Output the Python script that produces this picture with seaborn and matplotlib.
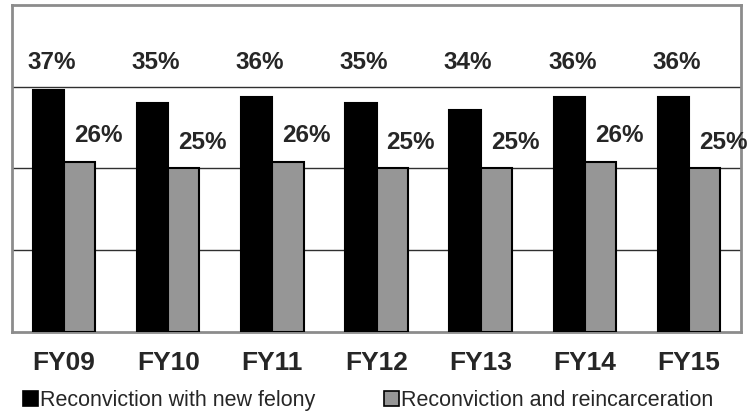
import matplotlib
matplotlib.use("Agg")
import matplotlib.pyplot as plt
import numpy as np
import pandas as pd
import seaborn as sns
from matplotlib.patches import Patch

years = ["FY09", "FY10", "FY11", "FY12", "FY13", "FY14", "FY15"]
felony = [0.37, 0.35, 0.36, 0.35, 0.34, 0.36, 0.36]
reincarc = [0.26, 0.25, 0.26, 0.25, 0.25, 0.26, 0.25]
series_names = ["Reconviction with new felony", "Reconviction and reincarceration"]
series_colors = ["#000000", "#969696"]

df = pd.DataFrame({
	"year": years * 2,
	"rate": felony + reincarc,
	"series": [series_names[0]] * len(years) + [series_names[1]] * len(years),
})

sns.set_style("white")
plt.rcParams['font.family'] = ['Liberation Sans', 'DejaVu Sans']

fig = plt.figure(figsize=(7.53, 4.13), dpi=100)
ax = fig.add_axes([12 / 753, 81 / 413, 729 / 753, 327 / 413])

sns.barplot(data=df, x="year", y="rate", hue="series", palette=series_colors,
            width=0.6, edgecolor="black", linewidth=1.5, ax=ax, legend=False, zorder=3)

ax.set_ylim(0, 0.5)
ax.set_xlim(-0.5, len(years) - 0.5)
ax.set_yticks([0.125, 0.25, 0.375])
ax.set_yticklabels([])
ax.tick_params(axis="y", length=0)
ax.yaxis.grid(True, color="#303030", linewidth=1.0, zorder=0)
ax.set_xlabel("")
ax.set_ylabel("")

# tick marks at category boundaries
ax.set_xticks(np.arange(len(years)))
ax.set_xticklabels(years, fontsize=19, fontweight="bold")
ax.tick_params(axis="x", which="major", length=0, pad=14)
ax.set_xticks(np.arange(len(years) + 1) - 0.5, minor=True)
ax.tick_params(axis="x", which="minor", length=6, width=1.2, color="#808080", direction="out")

for side in ["left", "top", "right", "bottom"]:
	ax.spines[side].set_visible(True)
	ax.spines[side].set_color("#8c8c8c")
	ax.spines[side].set_linewidth(2)

# value labels (placed in a row above the bars, like the original)
for i, v in enumerate(felony):
	ax.text(i - 0.12, 0.412, f"{round(v * 100)}%", ha="center", va="center",
	        fontsize=17.5, fontweight="bold", zorder=5)
for i, v in enumerate(reincarc):
	ax.text(i + 0.33, v + 0.04, f"{round(v * 100)}%", ha="center", va="center",
	        fontsize=17.5, fontweight="bold", zorder=5, clip_on=False)

handles = [Patch(facecolor=c, edgecolor="black", linewidth=1.2) for c in series_colors]
fig.legend(handles, series_names, loc="center", bbox_to_anchor=(0.489, 0.03),
           ncol=2, frameon=False, fontsize=15.5, handlelength=0.7, handleheight=0.7,
           handletextpad=0.1, columnspacing=3.2, borderpad=0)

fig.savefig("out.png", dpi=100)
